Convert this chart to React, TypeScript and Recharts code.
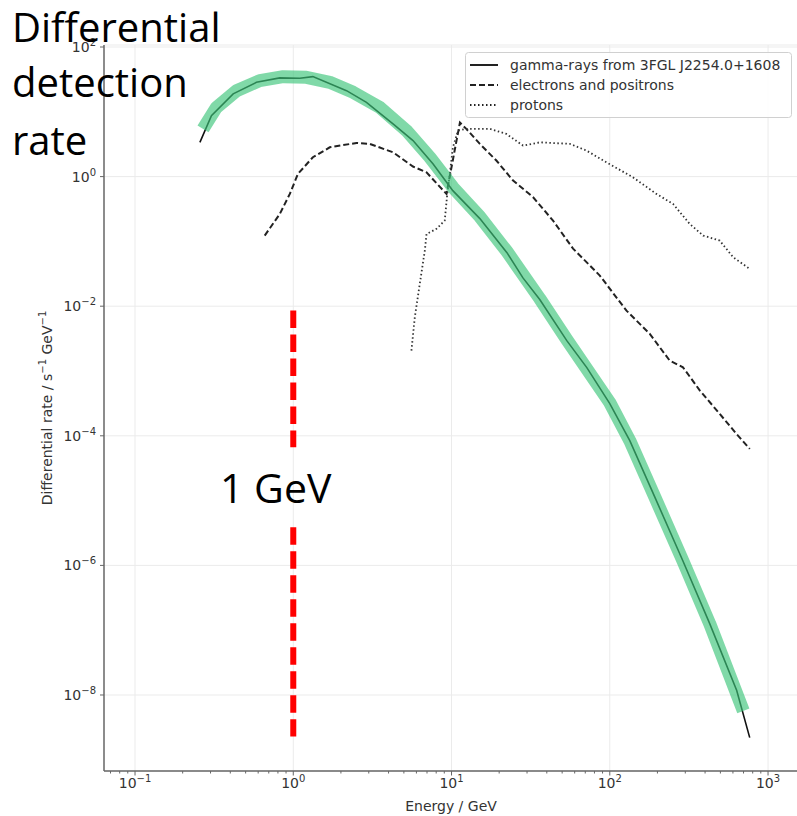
import React from 'react';
import {
  ComposedChart,
  Line,
  XAxis,
  YAxis,
  CartesianGrid,
  ReferenceLine,
  Legend,
} from 'recharts';

// ---- series values (energy in GeV, differential rate in s^-1 GeV^-1) ----
const gammaEnergy = [0.257, 0.304, 0.417, 0.585, 0.822, 1.1, 1.33, 2.17, 2.9, 4.27, 5.71, 7.65, 10.19, 15.1, 22.4, 28.2, 36.1, 53.5, 71.6, 100, 133.8, 192, 289, 428, 634, 766];
const gammaRate = [3.38, 8.74, 18.9, 28.5, 33.4, 32.9, 34.9, 21.2, 14.0, 6.5, 3.6, 1.57, 0.608, 0.225, 0.0671, 0.0276, 0.01265, 0.00294, 0.001127, 3.14e-4, 8.43e-5, 1.15e-5, 1.19e-6, 1.26e-7, 1.17e-8, 2.2e-9];

// smooth highlight band drawn over the gamma-ray curve
const bandEnergy = [0.269, 0.327, 0.438, 0.614, 0.863, 1.21, 1.7, 2.39, 3.52, 5.19, 7.29, 10.2, 15.1, 22.4, 36.1, 53.5, 100, 133.8, 192, 289, 428, 698];
const bandRate = [5.45, 11.7, 21.2, 30.3, 34.9, 34.1, 28.5, 20.0, 11.7, 5.13, 1.99, 0.684, 0.241, 0.0697, 0.0131, 0.00305, 3.25e-4, 8.4e-5, 1.15e-5, 1.19e-6, 1.26e-7, 5.7e-9];

const electronEnergy = [0.66, 0.822, 0.951, 1.07, 1.33, 1.7, 2.51, 3.04, 4.27, 5.71, 6.95, 9.29, 11.3, 12.4, 15.1, 19.2, 24.5, 32.8, 43.8, 58.6, 86.5, 110, 127.5, 179, 239, 290, 371, 495, 632, 767];
const electronRate = [0.123, 0.265, 0.541, 1.1, 1.99, 2.83, 3.31, 3.2, 2.37, 1.43, 1.16, 0.541, 6.81, 5.45, 3.2, 1.77, 0.868, 0.48, 0.209, 0.0774, 0.0297, 0.0137, 0.00855, 0.00374, 0.00145, 0.00114, 4.99e-4, 2.18e-4, 1.07e-4, 6.28e-5];

const protonEnergy = [5.58, 5.86, 6.3, 6.78, 6.95, 8.03, 9.06, 9.4, 9.75, 10.2, 11.0, 12.4, 17.5, 22.2, 28.3, 36.1, 55.9, 71.3, 95.3, 140, 197, 251, 320, 389, 495, 602, 767];
const protonRate = [2.06e-3, 6.74e-3, 0.0221, 0.0721, 0.13, 0.156, 0.21, 0.541, 1.1, 2.83, 5.13, 5.45, 5.45, 4.56, 3.01, 3.38, 3.2, 2.52, 1.66, 0.976, 0.541, 0.379, 0.186, 0.123, 0.103, 0.0569, 0.0376];

// marker at 1 GeV (upper and lower pieces, split around its caption)
const markerEnergy = 1;
const markerUpper = [8.55e-3, 6.65e-5];
const markerLower = [3.87e-6, 2.28e-9];

// ---- ticks ----
const xMajorTicks = [0.1, 1, 10, 100, 1000];
const xMinorTicks = [
  0.07, 0.08, 0.09,
  0.2, 0.3, 0.4, 0.5, 0.6, 0.7, 0.8, 0.9,
  2, 3, 4, 5, 6, 7, 8, 9,
  20, 30, 40, 50, 60, 70, 80, 90,
  200, 300, 400, 500, 600, 700, 800, 900,
];
const xTickExponents = ['−1', '0', '1', '2', '3'];
const yTicks = [100, 1, 1e-2, 1e-4, 1e-6, 1e-8];
const yTickExponents = ['2', '0', '−2', '−4', '−6', '−8'];

const legendEntries = [
  { name: 'gamma-rays from 3FGL J2254.0+1608', dash: undefined as string | undefined },
  { name: 'electrons and positrons', dash: '6 3' },
  { name: 'protons', dash: '1.5 2.5' },
];

const toPoints = (es: number[], rs: number[]) => es.map((e, i) => ({ e, r: rs[i] }));

const gammaData = toPoints(gammaEnergy, gammaRate);
const bandData = toPoints(bandEnergy, bandRate);
const electronData = toPoints(electronEnergy, electronRate);
const protonData = toPoints(protonEnergy, protonRate);

const W = 797;
const H = 816;
const FONT = '"DejaVu Sans", sans-serif';
const TEXT_COLOR = '#333';
const AXIS_COLOR = '#666';
const GRID_COLOR = '#ebebeb';

const XTick = (props: any) => {
  const { x, y, payload } = props;
  const v = payload.value as number;
  const idx = xMajorTicks.indexOf(v);
  const major = idx >= 0;
  return (
    <g>
      <line x1={x} x2={x} y1={y} y2={y + (major ? 4.5 : 2.5)} stroke={AXIS_COLOR} strokeWidth={1} />
      {major && (
        <text x={x} y={y + 17} textAnchor="middle" fontFamily={FONT} fontSize={14} fill={TEXT_COLOR}>
          <tspan>10</tspan>
          <tspan dy={-6} fontSize={10}>{xTickExponents[idx]}</tspan>
        </text>
      )}
    </g>
  );
};

const YTick = (props: any) => {
  const { x, y, payload } = props;
  const idx = yTicks.indexOf(payload.value as number);
  return (
    <g>
      <line x1={x} x2={x - 4} y1={y} y2={y} stroke={AXIS_COLOR} strokeWidth={1} />
      <text x={x - 8} y={y + 5} textAnchor="end" fontFamily={FONT} fontSize={14} fill={TEXT_COLOR}>
        <tspan>10</tspan>
        <tspan dy={-6} fontSize={10}>{yTickExponents[idx]}</tspan>
      </text>
    </g>
  );
};

const LegendBox = () => (
  <svg width={327} height={66} style={{ display: 'block' }}>
    <rect x={0.5} y={0.5} width={326} height={65} rx={3} fill="#fff" fillOpacity={0.85} stroke="#d0d0d0" />
    {legendEntries.map((entry, i) => {
      const cy = 13 + i * 20;
      return (
        <g key={entry.name}>
          <line x1={5} x2={33} y1={cy} y2={cy} stroke="#222" strokeWidth={2} strokeDasharray={entry.dash} />
          <text x={45} y={cy + 5} fontFamily={FONT} fontSize={14} fill={TEXT_COLOR}>
            {entry.name}
          </text>
        </g>
      );
    })}
  </svg>
);

export default function App() {
  return (
    <div style={{ position: 'absolute', left: 0, top: 0, width: W, height: H, overflow: 'hidden', background: '#fff' }}>
      <ComposedChart width={W} height={H} margin={{ top: 45, right: 0, bottom: 0, left: 0 }}>
        <CartesianGrid vertical={false} stroke={GRID_COLOR} strokeWidth={1} />
        {xMajorTicks.map((v) => (
          <ReferenceLine key={v} x={v} stroke={GRID_COLOR} strokeWidth={1} ifOverflow="hidden" />
        ))}
        <XAxis
          type="number"
          dataKey="e"
          scale="log"
          domain={[Math.pow(10, -1.196), Math.pow(10, 3.183)]}
          allowDataOverflow
          ticks={[...xMinorTicks, ...xMajorTicks].sort((a, b) => a - b)}
          interval={0}
          tickSize={0}
          tickMargin={0}
          tickLine={false}
          tick={<XTick />}
          axisLine={{ stroke: AXIS_COLOR, strokeWidth: 1.5 }}
          height={45}
        />
        <YAxis
          type="number"
          dataKey="r"
          scale="log"
          domain={[Math.pow(10, -9.173), Math.pow(10, 2.031)]}
          allowDataOverflow
          ticks={yTicks}
          interval={0}
          tickSize={0}
          tickMargin={0}
          tickLine={false}
          tick={<YTick />}
          axisLine={{ stroke: AXIS_COLOR, strokeWidth: 1.5 }}
          width={104}
        />
        <Line data={electronData} dataKey="r" type="linear" stroke="#222" strokeWidth={2} strokeDasharray="6 3" dot={false} isAnimationActive={false} name="electrons and positrons" />
        <Line data={protonData} dataKey="r" type="linear" stroke="#333" strokeWidth={1.8} strokeDasharray="1.5 2.5" dot={false} isAnimationActive={false} name="protons" />
        <Line data={gammaData} dataKey="r" type="linear" stroke="#111" strokeWidth={1.6} dot={false} isAnimationActive={false} name="gamma-rays from 3FGL J2254.0+1608" />
        <Line data={bandData} dataKey="r" type="linear" stroke="#3cc47a" strokeOpacity={0.65} strokeWidth={13} strokeLinejoin="round" dot={false} isAnimationActive={false} legendType="none" />
        <ReferenceLine
          segment={[{ x: markerEnergy, y: markerUpper[0] }, { x: markerEnergy, y: markerUpper[1] }]}
          stroke="#ff0000"
          strokeWidth={6}
          strokeDasharray="17.5 6.5"
        />
        <ReferenceLine
          segment={[{ x: markerEnergy, y: markerLower[0] }, { x: markerEnergy, y: markerLower[1] }]}
          stroke="#ff0000"
          strokeWidth={6}
          strokeDasharray="17.5 6.5"
        />
        <Legend
          layout="horizontal"
          verticalAlign="middle"
          align="center"
          content={() => <LegendBox />}
          wrapperStyle={{ position: 'absolute', left: 465, top: 52, width: 327, height: 66 }}
        />
      </ComposedChart>
      <svg width={W} height={H} style={{ position: 'absolute', left: 0, top: 0, pointerEvents: 'none' }}>
        <text x={451} y={811} textAnchor="middle" fontFamily={FONT} fontSize={14} fill={TEXT_COLOR}>
          Energy / GeV
        </text>
        <text transform="translate(52,408) rotate(-90)" textAnchor="middle" fontFamily={FONT} fontSize={14} fill={TEXT_COLOR}>
          <tspan>Differential rate / s</tspan>
          <tspan dy={-6} fontSize={10}>−1</tspan>
          <tspan dy={6}> GeV</tspan>
          <tspan dy={-6} fontSize={10}>−1</tspan>
        </text>
        <g fontFamily='"Open Sans", sans-serif' fill="#000">
          <text x={12} y={42} fontSize={40}>Differential</text>
          <text x={12} y={97} fontSize={40}>detection</text>
          <text x={12} y={155} fontSize={40}>rate</text>
          <text x={220} y={503} fontSize={41}>1 GeV</text>
        </g>
      </svg>
    </div>
  );
}
